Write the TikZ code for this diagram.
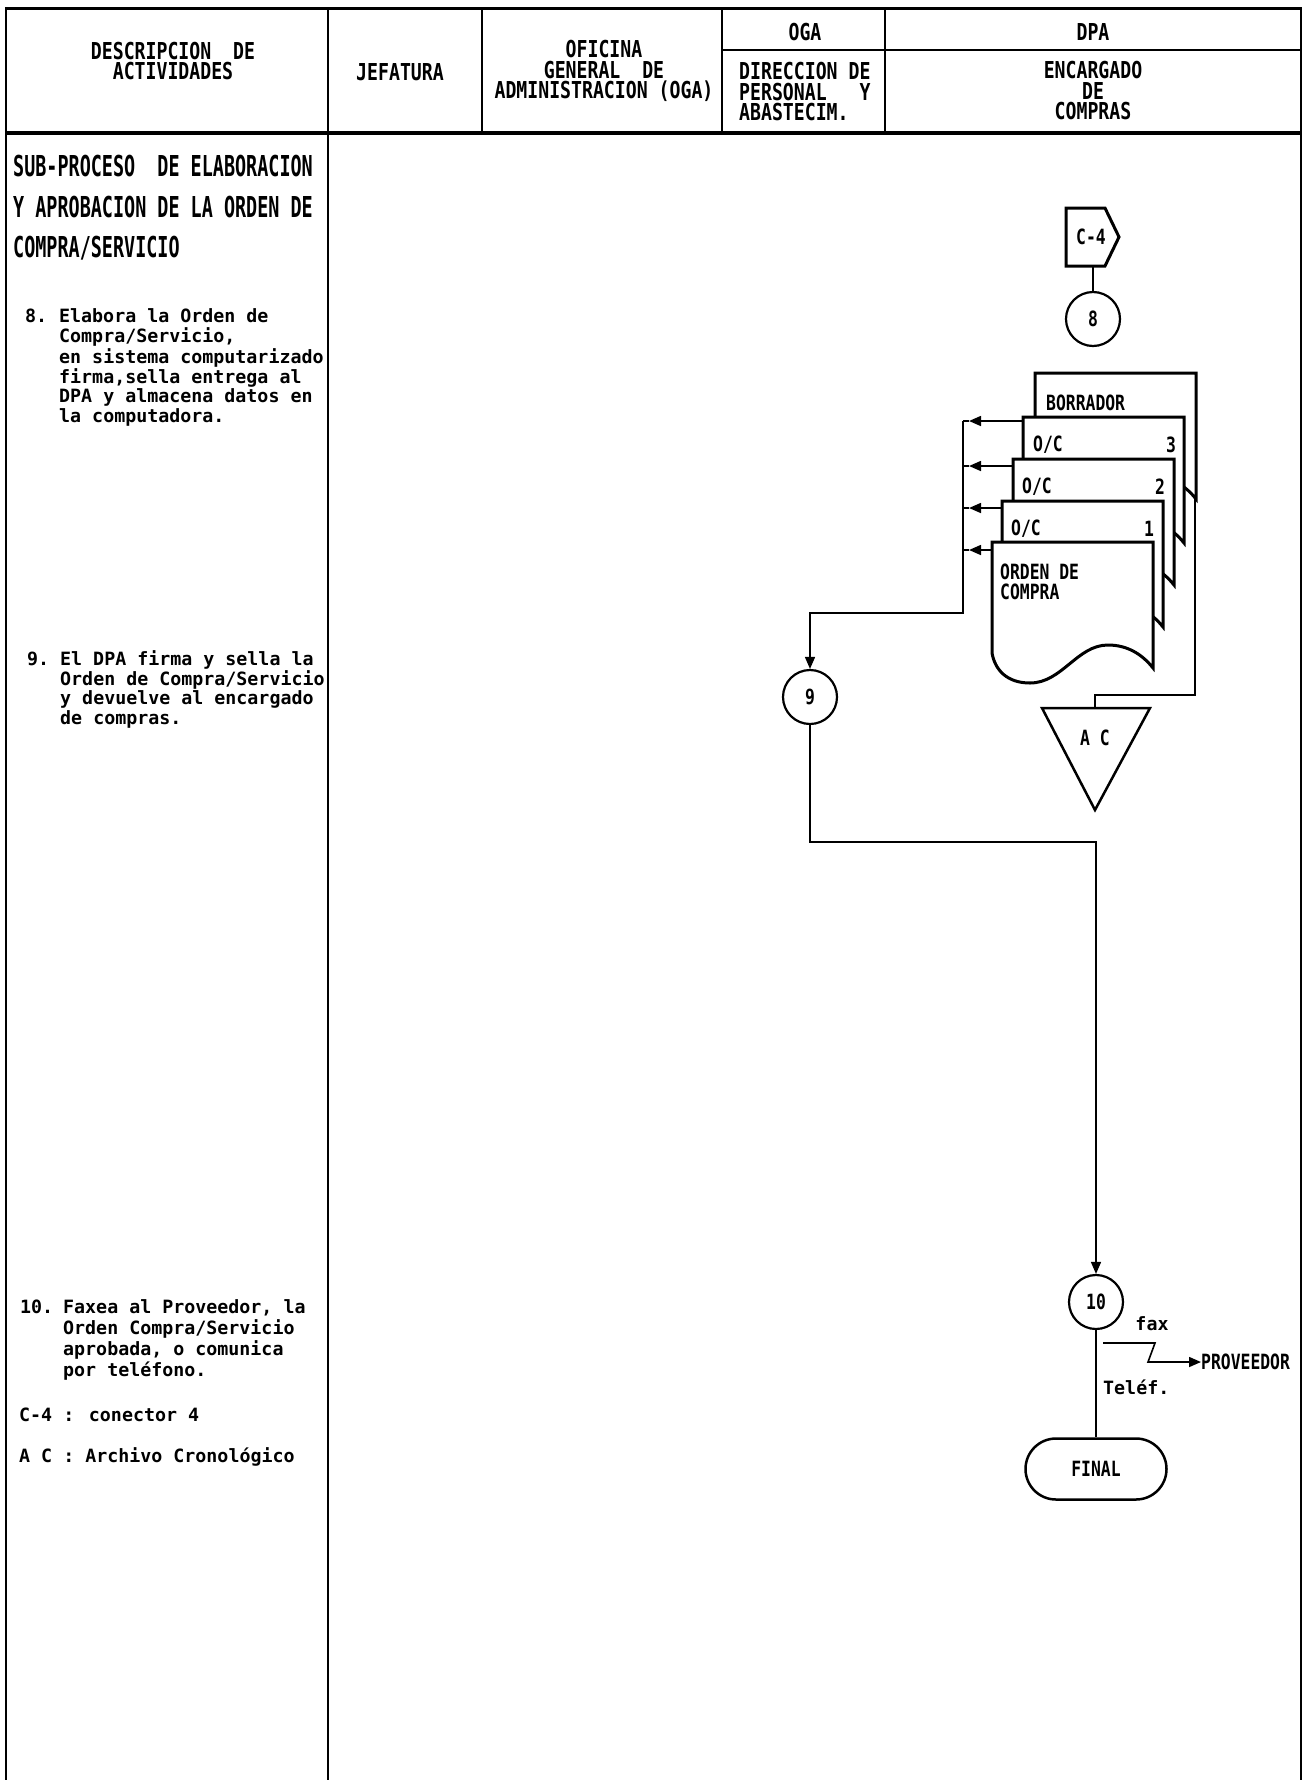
\documentclass[tikz,border=0pt]{standalone}
\usepackage{fontspec}
\usetikzlibrary{arrows.meta,shapes.misc}
\newfontfamily\hdrfont[FakeStretch=0.78]{DejaVu Sans Mono}
\newfontfamily\ttlfont[FakeStretch=0.64]{DejaVu Sans Mono}
\newfontfamily\dsmono{DejaVu Sans Mono}
\begin{document}
\begin{tikzpicture}[x=1pt,y=-1pt,
  frame/.style={line width=2pt},
  heavy/.style={line width=4pt},
  conn/.style={line width=1.6pt},
  arr/.style={conn,-{Triangle[length=12pt,width=10pt]}},
  hdr/.style={font=\hdrfont\bfseries\fontsize{23.3}{20.5}\selectfont, align=center, inner sep=0pt},
  ttl/.style={font=\ttlfont\bfseries\fontsize{28.8}{40.5}\selectfont, align=left, inner sep=0pt, anchor=west},
  desc/.style={font=\dsmono\bfseries\fontsize{18.3}{18.2}\selectfont, inner sep=0pt, anchor=west},
  lbl/.style={font=\hdrfont\bfseries\fontsize{21}{20}\selectfont, inner sep=0pt},
  circ/.style={circle, draw, line width=2.2pt, minimum size=54pt, inner sep=0pt, fill=white,
    font=\hdrfont\bfseries\fontsize{21}{21}\selectfont},
  sheet/.style={draw, fill=white, line width=3pt, line join=miter},
  shp/.style={draw, line width=3pt, line join=miter}
]
\useasboundingbox (0,0) rectangle (1305,1780);

% ---------- frame ----------
\draw[frame] (6,8) -- (6,1780);
\draw[frame] (1301,8) -- (1301,1780);
\draw[frame] (328,8) -- (328,1780);
\draw[frame] (482,8) -- (482,133);
\draw[frame] (722,8) -- (722,133);
\draw[frame] (885,8) -- (885,133);
\draw[line width=2.5pt] (722,50) -- (1301,50);
\draw[line width=3pt] (5,8) -- (1302,8);
\draw[heavy] (5,133) -- (1302,133);

% ---------- header texts ----------
\node[hdr] (hdesc) at (173,61) {DESCRIPCION~~DE\\ACTIVIDADES};
\node[hdr] (hjef) at (400,72) {JEFATURA};
\node[hdr] (hofi) at (604,71) {OFICINA\\GENERAL~~DE\\ADMINISTRACION (OGA)};
\node[hdr] (hoga) at (805,32) {OGA};
\node[hdr] (hdpa) at (1093,32) {DPA};
\node[hdr, align=left, anchor=west] (hdir) at (739,92) {DIRECCION DE\\PERSONAL~~~Y\\ABASTECIM.};
\node[hdr] (henc) at (1093,91) {ENCARGADO\\DE\\COMPRAS};

% ---------- left column texts ----------
\node[ttl] (ttl) at (13,208) {SUB-PROCESO~~DE ELABORACION\\Y APROBACION DE LA ORDEN DE\\COMPRA/SERVICIO};

\node[desc] (d8) at (25,368) {\begin{tabular}{@{}p{34pt}@{}l@{}}
8. & Elabora la Orden de\\
   & Compra/Servicio,\\
   & en sistema computarizado\\
   & firma,sella entrega al\\
   & DPA y almacena datos en\\
   & la computadora.\end{tabular}};

\node[desc] (d9) at (27,690) {\begin{tabular}{@{}p{33pt}@{}l@{}}
9. & El DPA firma y sella la\\
   & Orden de Compra/Servicio\\
   & y devuelve al encargado\\
   & de compras.\end{tabular}};

\node[desc, font=\dsmono\bfseries\fontsize{18.3}{20.2}\selectfont] (d10) at (20,1341) {\begin{tabular}{@{}p{43pt}@{}l@{}}
10. & Faxea al Proveedor, la\\
    & Orden Compra/Servicio\\
    & aprobada, o comunica\\
    & por teléfono.\end{tabular}};

\node[desc] (leg1) at (19,1415) {C-4 : conector 4};
\node[desc] (leg2) at (19,1457) {A~C : Archivo Cronológico};

% ---------- C-4 connector and circle 8 ----------
\draw[shp] (1066,208) -- (1105,208) -- (1119,237) -- (1105,266) -- (1066,266) -- cycle;
\node[lbl] (c4) at (1091,237) {C-4};
\coordinate (c4b) at (1093,266);
\node[circ] (c8) at (1093,319) {8};
\draw[conn] (c4b) -- (c8.north);

% ---------- document stack ----------
\foreach \sx/\sy in {1035/373, 1023/417, 1013/459, 1002/501, 992/542} {
  \filldraw[sheet] (\sx,\sy+111) -- (\sx,\sy) -- (\sx+161,\sy) -- (\sx+161,\sy+126)
    .. controls (\sx+150,\sy+112) and (\sx+135,\sy+103) .. (\sx+116,\sy+103)
    .. controls (\sx+85,\sy+103) and (\sx+70,\sy+141) .. (\sx+38,\sy+141)
    .. controls (\sx+15,\sy+141) and (\sx+3,\sy+128) .. (\sx,\sy+111) -- cycle;
}
\node[lbl, anchor=west] (bor) at (1046,403) {BORRADOR};
\node[lbl, anchor=west] (oc3) at (1033,445) {O/C};
\node[lbl] (n3) at (1171,445) {3};
\node[lbl, anchor=west] (oc2) at (1022,487) {O/C};
\node[lbl] (n2) at (1160,487) {2};
\node[lbl, anchor=west] (oc1) at (1011,529) {O/C};
\node[lbl] (n1) at (1149,529) {1};
\node[lbl, anchor=west, align=left] (odc) at (1000,582) {ORDEN DE\\COMPRA};

% arrows from sheets to collector
\coordinate (col) at (963,421);
\foreach \i/\sx/\ay in {3/1023/421, 2/1013/466, 1/1002/508, 0/992/550} {
  \coordinate (s\i) at (\sx,\ay);
  \coordinate (t\i) at (969,\ay);
  \coordinate (v\i) at (963,\ay);
  \draw[arr] (s\i) -- (t\i);
  \draw[conn] (t\i) -- (v\i);
}

% circle 9
\node[circ] (c9) at (810,697) {9};
\coordinate (colb) at (963,613);
\draw[arr] (col) -- (colb) -| (c9.north);

% archive triangle
\draw[shp, line width=2.5pt] (1042,708) -- (1150,708) -- (1095,810) -- cycle;
\node[lbl] (ac) at (1095,738) {A~C};
\coordinate (acT) at (1095,708);
\coordinate (borb) at (1195,499);
\draw[conn] (borb) |- (1095,695) -- (acT);

% circle 10
\node[circ] (c10) at (1096,1302) {10};
\coordinate (j910) at (1096,842);
\draw[arr] (c9.south) |- (j910) -- (c10.north);

% final
\node[draw, rounded rectangle, line width=2.5pt, minimum width=141pt, minimum height=61pt,
  inner sep=0pt, font=\hdrfont\bfseries\fontsize{21}{21}\selectfont] (fin) at (1096,1469) {FINAL};
\draw[conn] (c10.south) -- (fin.north);

% fax / telephone to proveedor
\node[lbl, anchor=west] (prov) at (1201,1362) {PROVEEDOR};
\coordinate (fx) at (1103,1343);
\draw[arr] (fx) -- (1155,1343) -- (1148,1362) -- (prov.west);
\node[desc, anchor=center] (fax) at (1152,1324) {fax};
\node[desc] (tel) at (1103,1387) {Teléf.};

\end{tikzpicture}
\end{document}
